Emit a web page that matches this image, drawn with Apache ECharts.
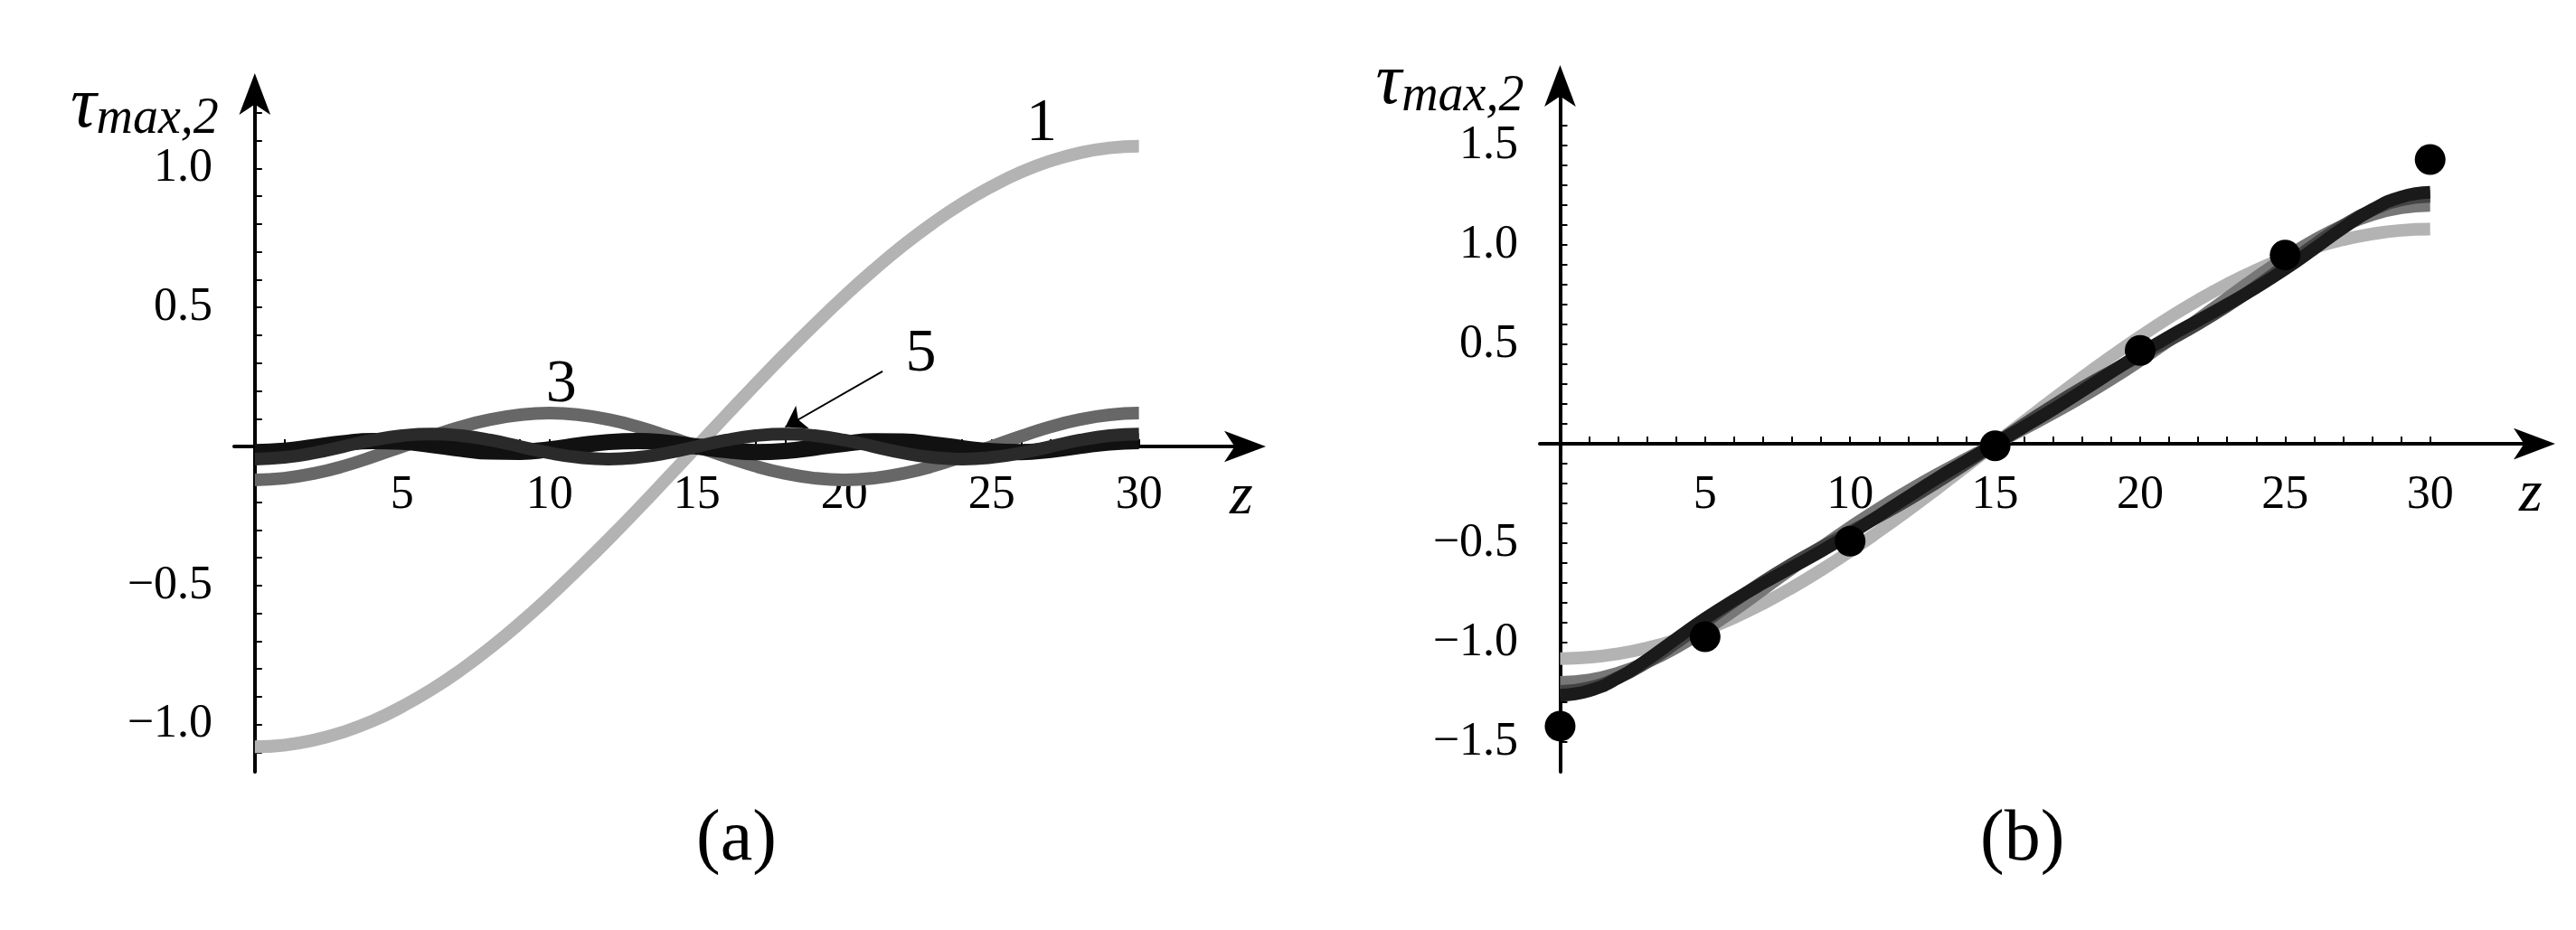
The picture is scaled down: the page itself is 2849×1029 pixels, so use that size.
<!DOCTYPE html>
<html>
<head>
<meta charset="utf-8">
<script src="https://cdn.jsdelivr.net/npm/echarts@6/dist/echarts.min.js"></script>
<style>html,body{margin:0;padding:0;background:#fff}#chart{width:2849px;height:1029px}</style>
</head>
<body>
<div id="chart"></div>
<script>
// z samples, step 1
var zs = [];
for (var i = 0; i <= 30; i++) zs.push(i);

// term 1, 3, 5, 7
var term1 = [-1.08,-1.074,-1.056,-1.027,-0.987,-0.935,-0.874,-0.803,-0.723,-0.635,-0.54,-0.439,-0.334,-0.225,-0.113,0,
    0.113,0.225,0.334,0.439,0.54,0.635,0.723,0.803,0.874,0.935,0.987,1.027,1.056,1.074,1.08];
var term3 = [-0.12,-0.114,-0.097,-0.071,-0.037,0,0.037,0.071,0.097,0.114,0.12,0.114,0.097,0.071,0.037,0,
    -0.037,-0.071,-0.097,-0.114,-0.12,-0.114,-0.097,-0.071,-0.037,0,0.037,0.071,0.097,0.114,0.12];
var term5 = [-0.045,-0.039,-0.023,0,0.023,0.039,0.045,0.039,0.023,0,-0.023,-0.039,-0.045,-0.039,-0.023,0,
    0.023,0.039,0.045,0.039,0.023,0,-0.023,-0.039,-0.045,-0.039,-0.023,0,0.023,0.039,0.045];
var term7 = [-0.02,-0.015,-0.002,0.012,0.02,0.017,0.006,-0.008,-0.018,-0.019,-0.01,0.004,0.016,0.02,0.013,0,
    -0.013,-0.02,-0.016,-0.004,0.01,0.019,0.018,0.008,-0.006,-0.017,-0.02,-0.012,0.002,0.015,0.02];

// measured points in panel (b)
var dotZ = [0, 5, 10, 15, 20, 25, 30];
var dotY = [-1.42, -0.97, -0.49, -0.01, 0.47, 0.95, 1.43];

var xTickVals = [];
for (var t = 1; t <= 30; t++) xTickVals.push(t);
var xLabelVals = [5, 10, 15, 20, 25, 30];
var yTicksA = [], yTicksB = [];
for (var k = -12; k <= 12; k++) if (k) yTicksA.push(k / 10);
for (var k2 = -15; k2 <= 16; k2++) if (k2) yTicksB.push(k2 / 10);
var yLabelsA = [-1, -0.5, 0.5, 1];
var yLabelsB = [-1.5, -1, -0.5, 0.5, 1, 1.5];

function pairs(ys) {
    return zs.map(function (z, i) { return [z, ys[i]]; });
}
function partial(list) {
    return zs.map(function (z, i) {
        var s = 0;
        list.forEach(function (a) { s += a[i]; });
        return [z, +s.toFixed(3)];
    });
}

var font = 'Liberation Serif';
function fmtY(v) {
    return (v < 0 ? '\u2212' : '') + Math.abs(v).toFixed(1);
}
function xAxisOpt(idx) {
    return {
        type: 'value', gridIndex: idx, min: -0.7, max: 34,
        splitLine: {show: false},
        axisLine: {onZero: true, symbol: ['none', 'arrow'], symbolSize: [26, 46], symbolOffset: [0, 10],
            lineStyle: {color: '#000', width: 4}},
        axisTick: {inside: true, length: 8, customValues: xTickVals, lineStyle: {color: '#000', width: 2}},
        // labels sit just under the zero line, not at the grid bottom
        axisLabel: {customValues: xLabelVals, fontFamily: font, fontSize: 52, color: '#000', margin: -332},
        name: 'z', nameLocation: 'end', nameGap: -30,
        nameTextStyle: {fontFamily: font, fontStyle: 'italic', fontSize: 66, color: '#000',
            verticalAlign: 'top', padding: [24, 0, 0, 0]}
    };
}
function yAxisOpt(idx, min, max, ticks, labels) {
    return {
        type: 'value', gridIndex: idx, min: min, max: max,
        splitLine: {show: false},
        axisLine: {onZero: true, symbol: ['none', 'arrow'], symbolSize: [26, 46], symbolOffset: [0, 10],
            lineStyle: {color: '#000', width: 4}},
        axisTick: {inside: true, length: 8, customValues: ticks, lineStyle: {color: '#000', width: 2}},
        axisLabel: {customValues: labels, formatter: fmtY, fontFamily: font, fontSize: 52, color: '#000', margin: 24},
        name: '{t|\u03c4}{s|max,2}', nameLocation: 'end', nameGap: -20,
        nameTextStyle: {align: 'right', verticalAlign: 'top', padding: [0, 40, 0, 0],
            rich: {
                t: {fontFamily: font, fontStyle: 'italic', fontSize: 80, color: '#000'},
                s: {fontFamily: font, fontStyle: 'italic', fontSize: 56, color: '#000', padding: [28, 0, 0, 0]}
            }}
    };
}
function line(idx, data, color, width, z) {
    return {type: 'line', xAxisIndex: idx, yAxisIndex: idx, data: data, smooth: true, showSymbol: false,
        symbol: 'none', z: z, lineStyle: {color: color, width: width}};
}

var lblStyle = {show: true, fontFamily: font, fontSize: 68, color: '#000'};
var s1a = line(0, pairs(term1), '#b3b3b3', 14, 2);
s1a.markPoint = {symbol: 'circle', symbolSize: 1, itemStyle: {color: 'transparent'},
    data: [
        {coord: [26.7, 1.16], label: Object.assign({formatter: '1'}, lblStyle)},
        {coord: [10.4, 0.22], label: Object.assign({formatter: '3'}, lblStyle)},
        {coord: [22.6, 0.33], label: Object.assign({formatter: '5'}, lblStyle)}
    ]};
s1a.markLine = {silent: true, symbol: ['none', 'arrow'], symbolSize: 22, label: {show: false},
    lineStyle: {color: '#000', width: 2, type: 'solid'},
    data: [[{coord: [21.3, 0.27]}, {coord: [18, 0.07]}]]};

var option = {
    animation: false,
    backgroundColor: '#fff',
    title: [
        {text: '(a)', left: 765, top: 885, textStyle: {fontFamily: font, fontSize: 80, fontWeight: 'normal', color: '#000'}},
        {text: '(b)', left: 2185, top: 885, textStyle: {fontFamily: font, fontSize: 80, fontWeight: 'normal', color: '#000'}}
    ],
    grid: [
        {left: 259, right: 1459, top: 91, bottom: 175},
        {left: 1703, right: 33, top: 82, bottom: 175}
    ],
    xAxis: [xAxisOpt(0), xAxisOpt(1)],
    yAxis: [yAxisOpt(0, -1.17, 1.31, yTicksA, yLabelsA), yAxisOpt(1, -1.65, 1.86, yTicksB, yLabelsB)],
    series: [
        s1a,
        line(0, pairs(term3), '#676767', 14, 3),
        line(0, pairs(term7), '#111', 18, 4),
        line(0, pairs(term5), '#2a2a2a', 14, 5),
        line(1, partial([term1]), '#b3b3b3', 14, 2),
        line(1, partial([term1, term3]), '#777', 14, 3),
        line(1, partial([term1, term3, term5]), '#444', 14, 4),
        line(1, partial([term1, term3, term5, term7]), '#1a1a1a', 14, 5),
        {type: 'scatter', xAxisIndex: 1, yAxisIndex: 1, symbolSize: 34, z: 6,
            itemStyle: {color: '#000', opacity: 1},
            data: dotZ.map(function (z, i) { return [z, dotY[i]]; })}
    ]
};
echarts.init(document.getElementById('chart')).setOption(option);
</script>
</body>
</html>
